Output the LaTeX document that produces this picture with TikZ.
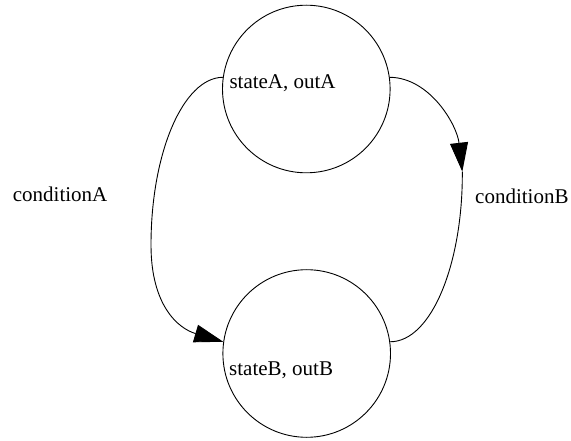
\documentclass[tikz,border=0pt]{standalone}
\usepackage{fontspec}
\setmainfont{Liberation Serif}
\usetikzlibrary{arrows.meta}
\begin{document}
\begin{tikzpicture}[x=1pt,y=-1pt,
  state/.style={circle,draw,line width=0.9pt,minimum size=167.6pt,inner sep=0pt},
  lbl/.style={anchor=base west,inner sep=0pt,font=\fontsize{21}{25}\selectfont},
  edge/.style={line width=0.9pt},
  tip/.style={-{Triangle[length=29pt,width=18pt]}}]
\useasboundingbox (0,0) rectangle (571,441);
\node[state] (A) at (306.3,89) {};
\node[state] (B) at (306.7,353.5) {};
\node[lbl] (tA) at (229.3,88.3) {stateA, outA};
\node[lbl] (tB) at (229,375) {stateB, outB};
\node[lbl] (cA) at (12.7,201.7) {conditionA};
\node[lbl] (cB) at (475,203.3) {conditionB};
\coordinate (L) at (151,245);
\coordinate (M) at (462.3,171.7);
\draw[edge,tip] (A.172) .. controls (183.3,77.7) and (151,152.6) .. (L)
  .. controls (151,305) and (177.7,328.3) .. (B.172);
\draw[edge,tip] (A.8) .. controls (430,77.7) and (457,125) .. (M);
\draw[edge] (M) .. controls (463,262) and (432,341.7) .. (B.8);
\end{tikzpicture}
\end{document}
